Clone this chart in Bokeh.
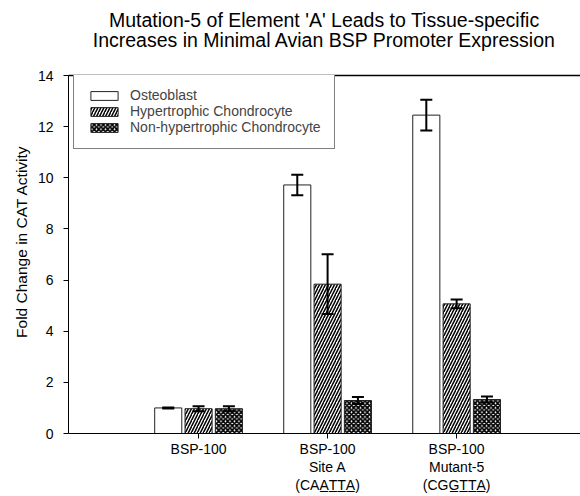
from bokeh.plotting import figure
from bokeh.models import (Range1d, Whisker, TeeHead, ColumnDataSource, LinearAxis,
                          Legend, LegendItem, FixedTicker, Title)
from bokeh.embed import file_html
from bokeh.resources import INLINE

# ---- data ----
groups = [1, 2, 3]
group_labels = ["BSP-100",
                "BSP-100\nSite A\n(CAA\u0332T\u0332T\u0332A\u0332)",
                "BSP-100\nMutant-5\n(CGG\u0332T\u0332T\u0332A\u0332)"]
osteoblast = [1.00, 9.72, 12.45]
osteoblast_err = [0.02, 0.40, 0.60]
hypertrophic = [0.97, 5.84, 5.07]
hypertrophic_err = [0.10, 1.17, 0.17]
nonhypertrophic = [0.97, 1.29, 1.33]
nonhypertrophic_err = [0.10, 0.14, 0.12]
series_names = ["Osteoblast", "Hypertrophic Chondrocyte", "Non-hypertrophic Chondrocyte"]
y_ticks = [0, 2, 4, 6, 8, 10, 12, 14]
title_lines = ["Mutation-5 of Element 'A' Leads to Tissue-specific",
               "Increases in Minimal Avian BSP Promoter Expression"]
y_title = "Fold Change in CAT Activity"

FONT = "Liberation Sans"
BAR_W = 0.21
OFFS = [-0.235, 0.0, 0.235]

p = figure(width=580, height=496, output_backend="svg", toolbar_location=None,
           x_range=Range1d(-0.008, 3.96), y_range=Range1d(0, 14),
           min_border_left=68, min_border_right=0, min_border_top=75, min_border_bottom=62)
p.outline_line_color = None
p.xgrid.visible = False
p.ygrid.visible = False
p.background_fill_color = "white"
p.border_fill_color = "white"

# y axis
p.yaxis.ticker = FixedTicker(ticks=y_ticks)
p.yaxis.minor_tick_line_color = None
p.yaxis.major_tick_out = 5
p.yaxis.major_tick_in = 0
p.yaxis.major_label_text_font = FONT
p.yaxis.major_label_text_font_size = "14px"
p.yaxis.major_label_text_color = "black"
p.yaxis.axis_line_color = "black"
p.yaxis.major_tick_line_color = "black"
p.yaxis.major_label_standoff = 10
p.yaxis.axis_label = "\u00a0" * 6 + y_title
p.yaxis.axis_label_text_font = FONT
p.yaxis.axis_label_text_font_size = "15.5px"
p.yaxis.axis_label_text_font_style = "normal"
p.yaxis.axis_label_text_color = "black"
p.yaxis.axis_label_standoff = 5

# x axis
p.xaxis.ticker = FixedTicker(ticks=groups)
p.xaxis.major_label_overrides = {g: t for g, t in zip(groups, group_labels)}
p.xaxis.minor_tick_line_color = None
p.xaxis.major_tick_out = 5
p.xaxis.major_tick_in = 0
p.xaxis.major_label_text_font = FONT
p.xaxis.major_label_text_font_size = "14px"
p.xaxis.major_label_text_line_height = 1.15
p.xaxis.major_label_text_color = "black"
p.xaxis.major_label_standoff = 2
p.xaxis.axis_line_color = "black"
p.xaxis.major_tick_line_color = "black"

# top frame line (an axis above with one invisible, unlabeled tick that spaces the title)
top_axis = LinearAxis(ticker=FixedTicker(ticks=[groups[0]]), axis_line_color="black",
                      axis_line_width=1.5, major_tick_out=24, major_tick_in=0,
                      major_tick_line_color=None, minor_tick_line_color=None,
                      major_label_standoff=0, major_label_overrides={groups[0]: ""})
p.add_layout(top_axis, "above")

# bars
series = [
    (osteoblast, osteoblast_err, dict(fill_color="white")),
    (hypertrophic, hypertrophic_err, dict(fill_color="white", hatch_pattern="/",
                                          hatch_color="black", hatch_scale=6, hatch_weight=1.5)),
    (nonhypertrophic, nonhypertrophic_err, dict(fill_color="white", hatch_pattern="x",
                                                hatch_color="black", hatch_scale=4.5, hatch_weight=1.8)),
]
renderers = []
for (vals, errs, style), off in zip(series, OFFS):
    xs = [g + off for g in groups]
    src = ColumnDataSource(dict(x=xs, top=vals,
                                upper=[v + e for v, e in zip(vals, errs)],
                                lower=[v - e for v, e in zip(vals, errs)]))
    r = p.vbar(x="x", top="top", width=BAR_W, bottom=0, source=src,
               line_color="#222222", line_width=1, **style)
    renderers.append(r)
    w = Whisker(source=src, base="x", upper="upper", lower="lower",
                line_color="black", line_width=2, level="annotation",
                upper_head=TeeHead(size=12, line_width=2, line_color="black"),
                lower_head=TeeHead(size=12, line_width=2, line_color="black"))
    p.add_layout(w)

legend = Legend(items=[LegendItem(label=n, renderers=[r]) for n, r in zip(series_names, renderers)],
                location=(5, 284), label_text_font=FONT, label_text_font_size="14px",
                glyph_width=34, glyph_height=11, label_height=15, spacing=0,
                padding=13, margin=0, label_standoff=9,
                border_line_color="black", border_line_width=1, background_fill_alpha=1)
p.add_layout(legend)

# two-line title; first line padded so both lines appear centred
title_text = "\u00a0" * 3 + title_lines[0] + "\n" + title_lines[1]
p.add_layout(Title(text=title_text, align="center", standoff=0,
                   text_font=FONT, text_font_size="19.5px", text_font_style="normal",
                   text_line_height=0.95, text_color="black"), "above")

open("out.html", "w").write(file_html(p, INLINE))
